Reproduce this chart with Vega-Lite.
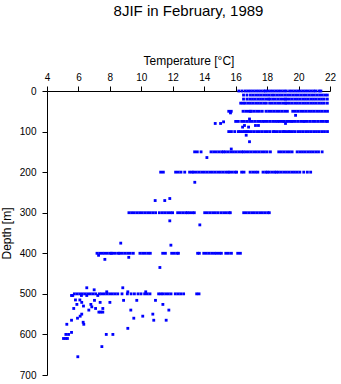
{
  "$schema": "https://vega.github.io/schema/vega-lite/v6.json",
  "width": 283,
  "height": 284,
  "autosize": {"type": "none"},
  "padding": {"left": 47, "top": 91, "right": 11, "bottom": 9},
  "background": "white",
  "title": {"text": "8JIF in February, 1989", "font": "Liberation Sans", "fontSize": 15, "fontWeight": "normal", "color": "black", "offset": 35, "anchor": "middle"},
  "config": {"view": {"stroke": null}},
  "data": {"values": [
{"t":16.2,"d":0},{"t":16.4,"d":0},{"t":16.6,"d":0},{"t":16.77,"d":0},{"t":16.94,"d":0},{"t":17.11,"d":0},{"t":17.28,"d":0},{"t":17.45,"d":0},{"t":17.62,"d":0},{"t":17.79,"d":0},{"t":17.9,"d":0},{"t":18.05,"d":0},{"t":18.22,"d":0},{"t":18.39,"d":0},{"t":18.56,"d":0},{"t":18.73,"d":0},{"t":18.9,"d":0},{"t":19.07,"d":0},{"t":19.22,"d":0},{"t":19.43,"d":0},{"t":19.6,"d":0},{"t":19.77,"d":0},{"t":19.94,"d":0},{"t":20.11,"d":0},{"t":20.28,"d":0},{"t":20.45,"d":0},{"t":20.62,"d":0},{"t":20.79,"d":0},{"t":20.96,"d":0},{"t":21.1,"d":0},{"t":21.3,"d":0},{"t":21.42,"d":0},
{"t":16.5,"d":10},{"t":16.72,"d":10},{"t":16.94,"d":10},{"t":17.11,"d":10},{"t":17.28,"d":10},{"t":17.45,"d":10},{"t":17.62,"d":10},{"t":17.79,"d":10},{"t":17.96,"d":10},{"t":18.13,"d":10},{"t":18.3,"d":10},{"t":18.45,"d":10},{"t":18.62,"d":10},{"t":18.79,"d":10},{"t":18.96,"d":10},{"t":19.13,"d":10},{"t":19.3,"d":10},{"t":19.47,"d":10},{"t":19.64,"d":10},{"t":19.81,"d":10},{"t":19.98,"d":10},{"t":20.15,"d":10},{"t":20.32,"d":10},{"t":20.49,"d":10},{"t":20.66,"d":10},{"t":20.83,"d":10},{"t":21.0,"d":10},{"t":21.17,"d":10},{"t":21.34,"d":10},{"t":21.51,"d":10},{"t":21.68,"d":10},{"t":21.83,"d":10},
{"t":16.5,"d":20},{"t":16.72,"d":20},{"t":16.9,"d":20},{"t":17.07,"d":20},{"t":17.24,"d":20},{"t":17.41,"d":20},{"t":17.58,"d":20},{"t":17.75,"d":20},{"t":17.92,"d":20},{"t":18.08,"d":20},{"t":18.18,"d":20},{"t":18.35,"d":20},{"t":18.52,"d":20},{"t":18.69,"d":20},{"t":18.86,"d":20},{"t":19.03,"d":20},{"t":19.16,"d":20},{"t":19.25,"d":20},{"t":19.42,"d":20},{"t":19.59,"d":20},{"t":19.76,"d":20},{"t":19.93,"d":20},{"t":20.1,"d":20},{"t":20.27,"d":20},{"t":20.44,"d":20},{"t":20.61,"d":20},{"t":20.78,"d":20},{"t":20.95,"d":20},{"t":21.12,"d":20},{"t":21.29,"d":20},{"t":21.46,"d":20},{"t":21.63,"d":20},{"t":21.83,"d":20},
{"t":16.32,"d":30},{"t":16.47,"d":30},{"t":16.6,"d":30},{"t":16.77,"d":30},{"t":16.94,"d":30},{"t":17.11,"d":30},{"t":17.28,"d":30},{"t":17.45,"d":30},{"t":17.62,"d":30},{"t":17.79,"d":30},{"t":17.95,"d":30},{"t":18.16,"d":30},{"t":18.33,"d":30},{"t":18.5,"d":30},{"t":18.67,"d":30},{"t":18.84,"d":30},{"t":19.01,"d":30},{"t":19.16,"d":30},{"t":19.25,"d":30},{"t":19.42,"d":30},{"t":19.59,"d":30},{"t":19.76,"d":30},{"t":19.93,"d":30},{"t":20.1,"d":30},{"t":20.27,"d":30},{"t":20.44,"d":30},{"t":20.61,"d":30},{"t":20.78,"d":30},{"t":20.95,"d":30},{"t":21.12,"d":30},{"t":21.29,"d":30},{"t":21.46,"d":30},{"t":21.63,"d":30},{"t":21.83,"d":30},
{"t":15.56,"d":50},{"t":15.72,"d":50},{"t":16.47,"d":50},{"t":16.64,"d":50},{"t":16.81,"d":50},{"t":16.93,"d":50},{"t":17.0,"d":50},{"t":17.17,"d":50},{"t":17.34,"d":50},{"t":17.51,"d":50},{"t":17.69,"d":50},{"t":17.93,"d":50},{"t":18.1,"d":50},{"t":18.27,"d":50},{"t":18.44,"d":50},{"t":18.61,"d":50},{"t":18.78,"d":50},{"t":18.95,"d":50},{"t":19.12,"d":50},{"t":19.29,"d":50},{"t":19.63,"d":50},{"t":19.8,"d":50},{"t":19.97,"d":50},{"t":20.14,"d":50},{"t":20.31,"d":50},{"t":20.48,"d":50},{"t":20.65,"d":50},{"t":20.82,"d":50},{"t":20.99,"d":50},{"t":21.16,"d":50},{"t":21.33,"d":50},{"t":21.5,"d":50},{"t":21.67,"d":50},{"t":21.84,"d":50},
{"t":15.67,"d":54},{"t":19.81,"d":60},
{"t":16.0,"d":75},{"t":16.17,"d":75},{"t":16.38,"d":75},{"t":16.55,"d":75},{"t":16.72,"d":75},{"t":16.89,"d":75},{"t":17.06,"d":75},{"t":17.23,"d":75},{"t":17.4,"d":75},{"t":17.57,"d":75},{"t":17.72,"d":75},{"t":17.85,"d":75},{"t":18.02,"d":75},{"t":18.19,"d":75},{"t":18.36,"d":75},{"t":18.53,"d":75},{"t":18.67,"d":75},{"t":18.8,"d":75},{"t":18.97,"d":75},{"t":19.08,"d":75},{"t":19.24,"d":75},{"t":19.4,"d":75},{"t":19.54,"d":75},{"t":19.63,"d":75},{"t":19.8,"d":75},{"t":19.97,"d":75},{"t":20.14,"d":75},{"t":20.31,"d":75},{"t":20.39,"d":75},{"t":20.56,"d":75},{"t":20.73,"d":75},{"t":20.9,"d":75},{"t":21.07,"d":75},{"t":21.24,"d":75},{"t":21.41,"d":75},{"t":21.58,"d":75},{"t":21.75,"d":75},{"t":21.84,"d":75},
{"t":14.7,"d":80},{"t":15.04,"d":80},{"t":15.23,"d":76},{"t":16.88,"d":69},{"t":19.17,"d":80},{"t":16.56,"d":85},{"t":17.26,"d":85},{"t":17.45,"d":85},{"t":16.44,"d":89},{"t":16.82,"d":89},
{"t":15.56,"d":100},{"t":15.73,"d":100},{"t":15.94,"d":100},{"t":16.17,"d":100},{"t":16.27,"d":100},{"t":16.42,"d":100},{"t":16.55,"d":100},{"t":16.64,"d":100},{"t":16.75,"d":100},{"t":16.83,"d":100},{"t":17.0,"d":100},{"t":17.17,"d":100},{"t":17.34,"d":100},{"t":17.51,"d":100},{"t":17.68,"d":100},{"t":17.85,"d":100},{"t":18.02,"d":100},{"t":18.19,"d":100},{"t":18.4,"d":100},{"t":18.48,"d":100},{"t":18.65,"d":100},{"t":18.82,"d":100},{"t":18.99,"d":100},{"t":19.08,"d":100},{"t":19.18,"d":100},{"t":19.35,"d":100},{"t":19.44,"d":100},{"t":19.6,"d":100},{"t":19.75,"d":100},{"t":19.95,"d":100},{"t":20.12,"d":100},{"t":20.29,"d":100},{"t":20.46,"d":100},{"t":20.63,"d":100},{"t":20.8,"d":100},{"t":20.97,"d":100},{"t":21.14,"d":100},{"t":21.31,"d":100},{"t":21.48,"d":100},{"t":21.65,"d":100},{"t":21.84,"d":100},
{"t":16.67,"d":109},{"t":16.88,"d":125},
{"t":13.39,"d":150},{"t":13.56,"d":150},{"t":13.8,"d":150},{"t":14.43,"d":150},{"t":14.6,"d":150},{"t":14.77,"d":150},{"t":14.94,"d":150},{"t":15.11,"d":150},{"t":15.22,"d":150},{"t":15.35,"d":150},{"t":15.52,"d":150},{"t":15.69,"d":150},{"t":15.86,"d":150},{"t":16.03,"d":150},{"t":16.2,"d":150},{"t":16.37,"d":150},{"t":16.49,"d":150},{"t":16.64,"d":150},{"t":16.81,"d":150},{"t":16.98,"d":150},{"t":17.15,"d":150},{"t":17.32,"d":150},{"t":17.49,"d":150},{"t":17.66,"d":150},{"t":17.83,"d":150},{"t":18.0,"d":150},{"t":18.21,"d":150},{"t":18.74,"d":150},{"t":18.91,"d":150},{"t":19.08,"d":150},{"t":19.25,"d":150},{"t":19.42,"d":150},{"t":19.59,"d":150},{"t":19.91,"d":150},{"t":20.08,"d":150},{"t":20.25,"d":150},{"t":20.42,"d":150},{"t":20.59,"d":150},{"t":20.76,"d":150},{"t":20.93,"d":150},{"t":21.1,"d":150},{"t":21.27,"d":150},{"t":21.5,"d":150},
{"t":15.72,"d":143},{"t":14.17,"d":164},
{"t":11.23,"d":200},{"t":11.4,"d":200},{"t":12.18,"d":200},{"t":12.35,"d":200},{"t":12.52,"d":200},{"t":12.76,"d":200},{"t":13.07,"d":200},{"t":13.23,"d":200},{"t":13.33,"d":200},{"t":13.5,"d":200},{"t":13.67,"d":200},{"t":13.84,"d":200},{"t":14.01,"d":200},{"t":14.18,"d":200},{"t":14.35,"d":200},{"t":14.52,"d":200},{"t":14.69,"d":200},{"t":14.86,"d":200},{"t":15.03,"d":200},{"t":15.2,"d":200},{"t":15.37,"d":200},{"t":15.52,"d":200},{"t":15.62,"d":200},{"t":15.79,"d":200},{"t":15.96,"d":200},{"t":16.06,"d":200},{"t":16.38,"d":200},{"t":16.53,"d":200},{"t":16.92,"d":200},{"t":17.09,"d":200},{"t":17.26,"d":200},{"t":17.41,"d":200},{"t":17.74,"d":200},{"t":17.91,"d":200},{"t":18.01,"d":200},{"t":18.13,"d":200},{"t":18.3,"d":200},{"t":18.47,"d":200},{"t":18.58,"d":200},{"t":18.72,"d":200},{"t":18.89,"d":200},{"t":19.06,"d":200},{"t":19.23,"d":200},{"t":19.4,"d":200},{"t":19.57,"d":200},{"t":19.74,"d":200},{"t":19.91,"d":200},{"t":20.08,"d":200},{"t":20.33,"d":200},{"t":20.56,"d":200},{"t":20.77,"d":200},
{"t":13.4,"d":225},{"t":10.88,"d":270},{"t":11.49,"d":270},{"t":11.81,"d":265},
{"t":9.21,"d":300},{"t":9.38,"d":300},{"t":9.55,"d":300},{"t":9.72,"d":300},{"t":9.89,"d":300},{"t":10.06,"d":300},{"t":10.23,"d":300},{"t":10.4,"d":300},{"t":10.57,"d":300},{"t":10.74,"d":300},{"t":10.91,"d":300},{"t":11.15,"d":300},{"t":11.34,"d":300},{"t":11.51,"d":300},{"t":11.68,"d":300},{"t":11.85,"d":300},{"t":11.99,"d":300},{"t":12.31,"d":300},{"t":12.48,"d":300},{"t":12.65,"d":300},{"t":12.82,"d":300},{"t":12.93,"d":300},{"t":13.07,"d":300},{"t":13.24,"d":300},{"t":13.37,"d":300},{"t":14.03,"d":300},{"t":14.2,"d":300},{"t":14.37,"d":300},{"t":14.54,"d":300},{"t":14.71,"d":300},{"t":14.88,"d":300},{"t":15.07,"d":300},{"t":15.24,"d":300},{"t":15.41,"d":300},{"t":15.58,"d":300},{"t":15.66,"d":300},{"t":16.51,"d":300},{"t":16.68,"d":300},{"t":16.85,"d":300},{"t":17.02,"d":300},{"t":17.19,"d":300},{"t":17.36,"d":300},{"t":17.53,"d":300},{"t":17.7,"d":300},{"t":17.87,"d":300},{"t":18.04,"d":300},{"t":18.14,"d":300},
{"t":11.81,"d":320},{"t":13.72,"d":330},{"t":8.69,"d":375},{"t":11.88,"d":380},
{"t":7.18,"d":400},{"t":7.35,"d":400},{"t":7.52,"d":400},{"t":7.67,"d":400},{"t":7.84,"d":400},{"t":8.01,"d":400},{"t":8.09,"d":400},{"t":8.18,"d":400},{"t":8.35,"d":400},{"t":8.54,"d":400},{"t":8.62,"d":400},{"t":8.79,"d":400},{"t":8.96,"d":400},{"t":9.13,"d":400},{"t":9.3,"d":400},{"t":9.49,"d":400},{"t":9.91,"d":400},{"t":10.08,"d":400},{"t":10.25,"d":400},{"t":10.42,"d":400},{"t":10.57,"d":400},{"t":11.36,"d":400},{"t":11.53,"d":400},{"t":11.93,"d":400},{"t":12.1,"d":400},{"t":12.27,"d":400},{"t":12.36,"d":400},{"t":13.58,"d":400},{"t":13.69,"d":400},{"t":13.97,"d":400},{"t":14.14,"d":400},{"t":14.31,"d":400},{"t":14.48,"d":400},{"t":14.65,"d":400},{"t":14.79,"d":400},{"t":14.96,"d":400},{"t":15.09,"d":400},{"t":15.37,"d":400},{"t":15.54,"d":400},{"t":15.73,"d":400},{"t":16.13,"d":400},{"t":16.3,"d":400},
{"t":7.28,"d":405},{"t":9.2,"d":410},{"t":7.68,"d":415},{"t":11.18,"d":435},{"t":6.53,"d":485},{"t":7.0,"d":490},{"t":8.82,"d":485},
{"t":5.74,"d":500},{"t":5.91,"d":500},{"t":6.08,"d":500},{"t":6.25,"d":500},{"t":6.42,"d":500},{"t":6.59,"d":500},{"t":6.76,"d":500},{"t":6.93,"d":500},{"t":7.1,"d":500},{"t":7.33,"d":500},{"t":7.48,"d":500},{"t":7.65,"d":500},{"t":7.82,"d":500},{"t":7.99,"d":500},{"t":8.16,"d":500},{"t":8.33,"d":500},{"t":8.5,"d":500},{"t":8.77,"d":500},{"t":9.11,"d":500},{"t":9.35,"d":500},{"t":9.56,"d":500},{"t":9.79,"d":500},{"t":9.98,"d":500},{"t":10.21,"d":500},{"t":10.38,"d":500},{"t":10.55,"d":500},{"t":11.1,"d":500},{"t":11.25,"d":500},{"t":11.38,"d":500},{"t":11.55,"d":500},{"t":11.72,"d":500},{"t":11.89,"d":500},{"t":12.16,"d":500},{"t":12.33,"d":500},{"t":12.5,"d":500},{"t":12.69,"d":500},{"t":13.52,"d":500},{"t":13.67,"d":500},
{"t":5.56,"d":504},{"t":7.8,"d":495},{"t":9.14,"d":495},{"t":10.28,"d":495},
{"t":5.64,"d":504},{"t":6.19,"d":504},{"t":6.53,"d":504},{"t":7.23,"d":504},{"t":5.81,"d":515},{"t":6.09,"d":515},{"t":6.21,"d":521},{"t":5.9,"d":526},{"t":6.32,"d":530},{"t":7.02,"d":516},{"t":7.38,"d":521},{"t":6.79,"d":526},{"t":6.85,"d":532},{"t":8.0,"d":521},{"t":8.87,"d":516},{"t":9.71,"d":516},{"t":10.9,"d":516},{"t":11.37,"d":526},{"t":5.7,"d":536},{"t":7.09,"d":536},{"t":7.55,"d":536},{"t":6.66,"d":540},{"t":7.3,"d":545},{"t":7.42,"d":545},{"t":7.55,"d":545},{"t":6.21,"d":550},{"t":6.11,"d":555},{"t":5.94,"d":560},{"t":5.56,"d":565},{"t":6.3,"d":570},{"t":6.34,"d":575},{"t":5.26,"d":575},{"t":9.33,"d":540},{"t":11.75,"d":540},{"t":10.73,"d":550},{"t":10.09,"d":555},{"t":9.52,"d":560},{"t":10.79,"d":565},{"t":11.58,"d":565},{"t":9.14,"d":585},{"t":5.56,"d":595},{"t":5.2,"d":600},{"t":5.37,"d":600},{"t":7.77,"d":600},{"t":8.19,"d":600},{"t":5.05,"d":610},{"t":5.18,"d":610},{"t":5.3,"d":610},{"t":7.49,"d":630},{"t":5.96,"d":655}
  ]},
  "mark": {"type": "point", "shape": "square", "filled": true, "size": 8, "color": "#0000ff", "opacity": 1, "strokeWidth": 0},
  "encoding": {
    "x": {"field": "t", "type": "quantitative",
      "scale": {"domain": [4, 22], "nice": false, "zero": false},
      "axis": {"orient": "top", "title": "Temperature [°C]", "values": [4,6,8,10,12,14,16,18,20,22], "grid": false,
        "domainColor": "black", "tickColor": "black", "tickSize": 5, "labelPadding": 4, "labelFont": "Liberation Sans", "labelFontSize": 10, "labelColor": "black",
        "titleFont": "Liberation Sans", "titleFontSize": 12, "titleFontWeight": "normal", "titleColor": "black", "titlePadding": 5, "labelFlush": false}},
    "y": {"field": "d", "type": "quantitative",
      "scale": {"domain": [0, 700], "reverse": true, "nice": false},
      "axis": {"title": "Depth [m]", "values": [0,100,200,300,400,500,600,700], "grid": false,
        "domainColor": "black", "tickColor": "black", "tickSize": 5, "labelPadding": 6, "labelFont": "Liberation Sans", "labelFontSize": 10, "labelColor": "black",
        "titleFont": "Liberation Sans", "titleFontSize": 12, "titleFontWeight": "normal", "titleColor": "black", "titlePadding": 6, "labelFlush": false}}
  }
}
